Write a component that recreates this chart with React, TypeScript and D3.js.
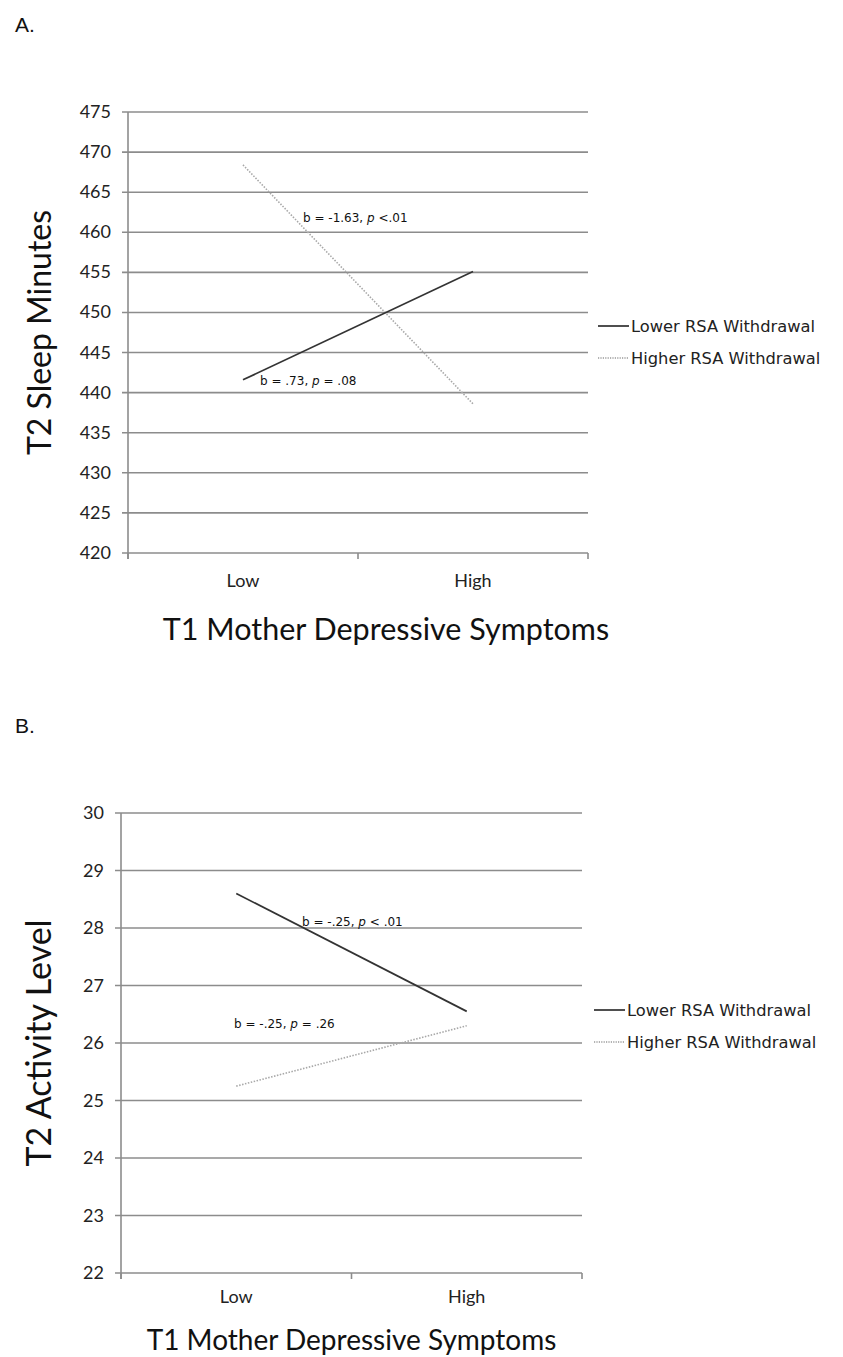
import React from "react";
import { scaleLinear, scaleBand, line, range } from "d3";

const categories = ["Low", "High"];
const seriesNames = ["Lower RSA Withdrawal", "Higher RSA Withdrawal"];

const sleepLower = [441.6, 455.1];
const sleepHigher = [468.4, 438.6];
const sleepTicks = range(420, 476, 5);

const activityLower = [28.6, 26.55];
const activityHigher = [25.25, 26.3];
const activityTicks = range(22, 31, 1);

const sleepNotes = [
  { b: "b = -1.63, ", p: "p", rest: " <.01" },
  { b: "b = .73, ", p: "p", rest: " = .08" },
];
const activityNotes = [
  { b: "b = -.25, ", p: "p", rest: " < .01" },
  { b: "b = -.25, ", p: "p", rest: " = .26" },
];

const GRID = "#8c8c8c";
const font = "Lato, 'Open Sans', sans-serif";
const wide = "'DejaVu Sans', Verdana, sans-serif";

type Note = { b: string; p: string; rest: string };

function Panel(props: {
  top: number;
  left: number;
  right: number;
  height: number;
  ticks: number[];
  lower: number[];
  higher: number[];
  yTitle: string;
  yTitleSize: number;
  letter: string;
  notes: Note[];
  notePos: [number, number][];
  legendX: number;
  legendY: number;
  catDy: number;
  titleDy: number;
  titleDx: number;
  titleSize: number;
}) {
  const p = props;
  const { top, left, right, height, ticks } = p;
  const x = scaleBand().domain(categories).range([left, right]);
  const y = scaleLinear()
    .domain([ticks[0], ticks[ticks.length - 1]])
    .range([top + height, top]);
  const bottom = top + height;
  const gen = line<number>()
    .x((_, i) => (x(categories[i]) as number) + x.bandwidth() / 2)
    .y((d) => y(d));
  const xTicks = [left, left + x.bandwidth(), right];

  return (
    <g>
      <text x={15} y={top - 80} fontFamily="'Liberation Sans', Arial, sans-serif" fontSize={21} fill="#111">
        {p.letter}
      </text>
      {ticks.map((t) => (
        <g key={t}>
          <line x1={left - 6} x2={right} y1={y(t)} y2={y(t)} stroke={GRID} strokeWidth={1.6} />
          <text x={left - 17} y={y(t) + 6} textAnchor="end" fontFamily={font} fontSize={18} fill="#222">
            {t}
          </text>
        </g>
      ))}
      <line x1={left} x2={left} y1={top} y2={bottom + 6} stroke={GRID} strokeWidth={1.6} />
      {xTicks.map((t, i) => (
        <line key={i} x1={t} x2={t} y1={bottom} y2={bottom + 6} stroke={GRID} strokeWidth={1.6} />
      ))}
      {categories.map((c) => (
        <text
          key={c}
          x={(x(c) as number) + x.bandwidth() / 2}
          y={bottom + p.catDy}
          textAnchor="middle"
          fontFamily={font}
          fontSize={18}
          fill="#222"
        >
          {c}
        </text>
      ))}
      <text
        x={(left + right) / 2 + p.titleDx}
        y={bottom + p.titleDy}
        textAnchor="middle"
        fontFamily={font}
        fontSize={p.titleSize}
        fill="#111"
      >
        T1 Mother Depressive Symptoms
      </text>
      <text
        transform={`translate(51, ${top + height / 2}) rotate(-90)`}
        textAnchor="middle"
        fontFamily={font}
        fontSize={p.yTitleSize}
        fill="#111"
      >
        {p.yTitle}
      </text>
      <path d={gen(p.higher) || ""} fill="none" stroke="#a8a8a8" strokeWidth={1.6} strokeDasharray="1.5 1.5" />
      <path d={gen(p.lower) || ""} fill="none" stroke="#333" strokeWidth={1.7} />
      {p.notes.map((n, i) => (
        <text key={i} x={p.notePos[i][0]} y={p.notePos[i][1]} fontFamily={wide} fontSize={12} fill="#111">
          {n.b}
          <tspan fontStyle="italic">{n.p}</tspan>
          {n.rest}
        </text>
      ))}
      {seriesNames.map((s, i) => (
        <g key={s}>
          <line
            x1={p.legendX}
            x2={p.legendX + 31}
            y1={p.legendY + i * 32}
            y2={p.legendY + i * 32}
            stroke={i === 0 ? "#222" : "#999"}
            strokeWidth={i === 0 ? 1.6 : 1.4}
            strokeDasharray={i === 0 ? undefined : "1.2 1.2"}
          />
          <text x={p.legendX + 33} y={p.legendY + i * 32 + 6} fontFamily={wide} fontSize={16.3} fill="#222">
            {s}
          </text>
        </g>
      ))}
    </g>
  );
}

export default function App() {
  return (
    <svg width={843} height={1357} style={{ position: "absolute", left: 0, top: 0, background: "#fff" }}>
      <Panel
        top={112}
        left={128}
        right={588}
        height={441}
        ticks={sleepTicks}
        lower={sleepLower}
        higher={sleepHigher}
        yTitle="T2 Sleep Minutes"
        yTitleSize={32}
        letter="A."
        notes={sleepNotes}
        notePos={[[303, 222], [260, 385]]}
        legendX={598}
        legendY={326}
        catDy={34}
        titleDy={87}
        titleDx={28}
        titleSize={30.5}
      />
      <Panel
        top={813}
        left={121}
        right={582}
        height={460}
        ticks={activityTicks}
        lower={activityLower}
        higher={activityHigher}
        yTitle="T2 Activity Level"
        yTitleSize={34}
        letter="B."
        notes={activityNotes}
        notePos={[[302, 926], [234, 1028]]}
        legendX={594}
        legendY={1010}
        catDy={30}
        titleDy={77}
        titleDx={0}
        titleSize={28}
      />
    </svg>
  );
}
